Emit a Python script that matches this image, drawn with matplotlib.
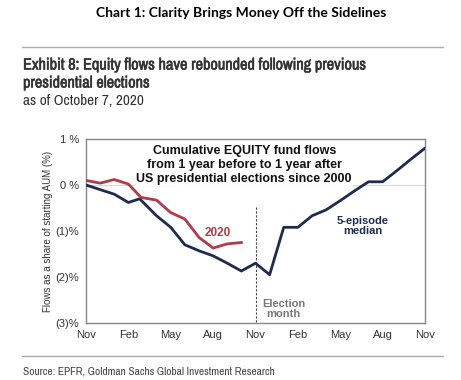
import matplotlib
matplotlib.use("Agg")
import matplotlib.pyplot as plt
import matplotlib.patheffects as pe
from matplotlib import font_manager

# months since Nov one year before the election (0..24)
median_months = [0, 1, 2, 3, 3.8, 5, 6, 7, 8, 9, 10, 11, 12, 13, 14, 15, 16, 17, 18, 19, 20, 21, 22, 23, 24]
median_flows = [0.0, -0.10, -0.20, -0.38, -0.30, -0.67, -0.92, -1.30, -1.43, -1.54, -1.70, -1.87,
                -1.70, -1.95, -0.92, -0.92, -0.67, -0.54, -0.34, -0.13, 0.07, 0.07, 0.31, 0.56, 0.80]
y2020_months = [0, 1, 2, 3, 3.9, 5, 6, 7, 8, 9, 10, 11]
y2020_flows = [0.10, 0.04, 0.12, 0.02, -0.27, -0.33, -0.60, -0.74, -1.14, -1.37, -1.28, -1.25]

x_ticks = [0, 3, 6, 9, 12, 15, 18, 21, 24]
x_labels = ["Nov", "Feb", "May", "Aug", "Nov", "Feb", "May", "Aug", "Nov"]
y_ticks = [1, 0, -1, -2, -3]
y_labels = ["1 %", "0 %", "(1)%", "(2)%", "(3)%"]

NAVY = "#1d2b4f"
RED = "#b23a4a"
HEAD = "#333333"

# pick a narrow family if one is installed (headings are in a condensed face)
names = sorted({f.name for f in font_manager.fontManager.ttflist})
cond = [n for n in names if "Narrow" in n or "Condensed" in n]
COND = cond[:1] + ["Liberation Sans", "DejaVu Sans"]
# condensed face has no bold here, so thicken with a thin stroke
fake_bold = [pe.withStroke(linewidth=0.4, foreground=HEAD)]

fig = plt.figure(figsize=(4.61, 3.8), dpi=100)
W, H = 461, 380


def px(x, y):
    return x / W, 1 - y / H


fig.text(*px(241, 13), "Chart 1: Clarity Brings Money Off the Sidelines", ha="center", va="center",
         fontsize=10, fontweight="bold", family=["Lato", "DejaVu Sans"])
fig.add_artist(plt.Line2D([22 / W, 443 / W], [1 - 47 / H] * 2, color="#aaaaaa", lw=1))
fig.text(*px(23, 65), "Exhibit 8: Equity flows have rebounded following previous", ha="left", va="center",
         fontsize=11.7, color=HEAD, family=COND, fontstretch="condensed", path_effects=fake_bold)
fig.text(*px(23, 83), "presidential elections", ha="left", va="center",
         fontsize=11.7, color=HEAD, family=COND, fontstretch="condensed", path_effects=fake_bold)
fig.text(*px(23, 101), "as of October 7, 2020", ha="left", va="center",
         fontsize=11, color=HEAD, family=COND, fontstretch="condensed")

ax = fig.add_axes([86 / W, 57 / H, 339 / W, 184 / H])
ax.axhline(0, color="#d8d8d8", lw=0.8, zorder=0)
ax.plot(median_months, median_flows, color=NAVY, lw=2, zorder=3)
ax.plot(y2020_months, y2020_flows, color=RED, lw=2, zorder=3)
ax.plot([12, 12], [-0.48, -3], color="#444444", lw=0.8, ls=(0, (2, 1.5)), zorder=1)

ax.text(11.2, 0.44, "Cumulative EQUITY fund flows\nfrom 1 year before to 1 year after\nUS presidential elections since 2000",
        ha="center", va="center", fontsize=9, fontweight="bold", linespacing=1.25, color="#111111",
        bbox=dict(facecolor="white", edgecolor="none", pad=1), zorder=2, family=["Liberation Sans", "DejaVu Sans"])
ax.text(9.3, -1.05, "2020", ha="center", va="center", fontsize=8.5, fontweight="bold", color=RED,
        family=["Liberation Sans", "DejaVu Sans"])
ax.text(19.6, -0.90, "5-episode\nmedian", ha="center", va="center", fontsize=8, fontweight="bold", color=NAVY,
        linespacing=1.0, family=["Liberation Sans", "DejaVu Sans"])
ax.text(14, -2.7, "Election\nmonth", ha="center", va="center", fontsize=8, fontweight="bold", color="#777777",
        linespacing=1.05, family=["Liberation Sans", "DejaVu Sans"])

ax.set_xlim(0, 24)
ax.set_ylim(-3, 1)
ax.set_xticks(x_ticks)
ax.set_xticklabels(x_labels)
ax.set_yticks(y_ticks)
ax.set_yticklabels(y_labels)
ax.tick_params(length=0, labelsize=8, colors="#333333", pad=5)
for lab in ax.get_xticklabels() + ax.get_yticklabels():
    lab.set_family(["Liberation Sans", "DejaVu Sans"])
for s in ax.spines.values():
    s.set_color("#888888")
    s.set_linewidth(1)
ax.set_ylabel("Flows as a share of starting AUM (%)", fontsize=7, color="#333333", labelpad=2,
              family=["Liberation Sans", "DejaVu Sans"])

fig.add_artist(plt.Line2D([22 / W, 443 / W], [1 - 356 / H] * 2, color="#aaaaaa", lw=1))
fig.text(*px(23, 371), "Source: EPFR, Goldman Sachs Global Investment Research", ha="left", va="center",
         fontsize=8.2, color="#444444", family=COND, fontstretch="condensed")

fig.savefig("out.png", dpi=100)
